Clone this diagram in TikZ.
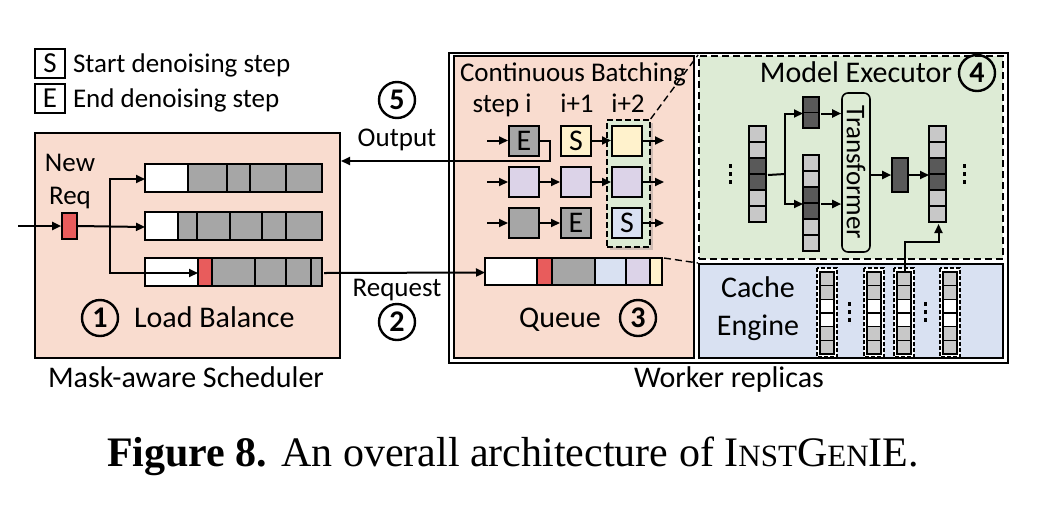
\documentclass[tikz,border=0pt]{standalone}
\usepackage{fontspec}
\setmainfont{Carlito}
\newfontfamily\capfont{Liberation Serif}
\usetikzlibrary{arrows.meta,shadows,calc}
\definecolor{pinkbg}{HTML}{F9DCCF}
\definecolor{greenbg}{HTML}{DDEBD5}
\definecolor{bluebg}{HTML}{D9E1F2}
\definecolor{midgray}{HTML}{A6A6A6}
\definecolor{darkgray}{HTML}{595959}
\definecolor{lightgray}{HTML}{C8C8C8}
\definecolor{redq}{HTML}{E85C5C}
\definecolor{yel}{HTML}{FFF2CC}
\definecolor{purp}{HTML}{DCD3E8}
\begin{document}
\begin{tikzpicture}[x=1pt,y=-1pt,
  line width=2pt,
  >={Triangle[length=9pt,width=8pt]},
  lbl/.style={font=\fontsize{27}{32}\selectfont, inner sep=0pt},
  big/.style={font=\fontsize{30}{38}\selectfont, inner sep=0pt},
  numc/.style={circle, draw, line width=2.4pt, minimum size=36pt, inner sep=0pt, font=\fontsize{30}{30}\selectfont\bfseries},
  sq/.style={draw, line width=2pt, minimum size=30pt, inner sep=0pt, font=\fontsize{30}{30}\selectfont},
  legbox/.style={draw, line width=2pt, minimum width=30pt, minimum height=29pt, inner sep=0pt, font=\fontsize{29}{29}\selectfont},
  area/.style={draw, line width=2pt, inner sep=0pt, anchor=north west},
  seg/.style={draw, line width=2pt},
  cell/.style={draw, line width=1.6pt},
  dsh/.style={dash pattern=on 7pt off 4pt, line width=1.8pt},
]
\useasboundingbox (0,0) rectangle (1041,515);

% legend
\node[legbox] (legS) at (50,63.5) {S};
\node[lbl, anchor=base west] (legStxt) at (72,72) {Start denoising step};
\node[legbox] (legE) at (50,98.5) {E};
\node[lbl, anchor=base west] (legEtxt) at (72,107) {End denoising step};

% scheduler
\node[area, fill=pinkbg, minimum width=305pt, minimum height=225pt] (sched) at (34,132) {};
\node[lbl, anchor=base] (newt) at (70,171) {New};
\node[lbl, anchor=base] (reqt) at (70,204) {Req};
\node[draw, line width=1.6pt, fill=redq, minimum width=15pt, minimum height=26pt, inner sep=0pt] (newreq) at (69.5,226) {};

\foreach \a/\b/\c in {145/188/white,188/227/midgray,227/250/midgray,250/286/midgray,286/322/midgray}
  \draw[seg, fill=\c] (\a,164) rectangle (\b,192);
\foreach \a/\b/\c in {145/178/white,178/197/midgray,197/230/midgray,230/262/midgray,262/286/midgray,286/322/midgray}
  \draw[seg, fill=\c] (\a,212) rectangle (\b,240);
\foreach \a/\b/\c in {145/198/white,198/212/redq,212/255/midgray,255/286/midgray,286/311/midgray,311/322/midgray}
  \draw[seg, fill=\c] (\a,258) rectangle (\b,286);
\node[inner sep=0pt, minimum width=177pt, minimum height=28pt, anchor=north west] (r1) at (145,164) {};
\node[inner sep=0pt, minimum width=177pt, minimum height=28pt, anchor=north west] (r2) at (145,212) {};
\node[inner sep=0pt, minimum width=177pt, minimum height=28pt, anchor=north west] (r3) at (145,258) {};
\node[inner sep=0pt, minimum width=14pt, minimum height=28pt, anchor=north west] (r3red) at (198,258) {};

\coordinate (inc) at (18,226);
\coordinate (br) at (110,226);
\draw[->] (inc) -- (newreq.west);
\draw[->] (newreq.east) -- (r2.west);
\draw[->] (br) |- (r1.west);
\draw[->] (br) |- (r3red.west);

\node[numc] (c1) at (100,318) {1};
\node[big, anchor=base west] (lbt) at (133,327) {Load Balance};
\node[big, anchor=base] (schedt) at (186,387) {Mask-aware Scheduler};

% middle labels
\node[numc] (c5) at (397,100) {5};
\node[lbl, anchor=base] (outt) at (397,146) {Output};
\node[lbl, anchor=base] (reqtt) at (397,296) {Request};
\node[numc] (c2) at (397,322) {2};

% worker replicas
\node[area, minimum width=559pt, minimum height=310pt] (worker) at (448,52) {};
\node[area, fill=pinkbg, minimum width=240pt, minimum height=302pt] (batch) at (453,55) {};
\node[area, dsh, fill=greenbg, minimum width=304pt, minimum height=203pt] (exec) at (698,55) {};
\node[area, fill=bluebg, minimum width=304pt, minimum height=94pt] (cache) at (698,263) {};
\node[big, anchor=base] (workt) at (729,387) {Worker replicas};

% continuous batching
\node[lbl, anchor=base] (cbt) at (573,81) {Continuous Batching};
\node[lbl, anchor=base] (s0) at (502,112) {step i};
\node[lbl, anchor=base] (s1) at (577,112) {i+1};
\node[lbl, anchor=base] (s2) at (628,112) {i+2};

\node[area, dash pattern=on 6pt off 3pt, line width=1.6pt, fill=greenbg, minimum width=43pt, minimum height=127pt,
  drop shadow={opacity=0.35, shadow xshift=3pt, shadow yshift=-3pt}] (sel) at (606,119) {};

\node[sq, fill=midgray] (b11) at (524,140.5) {E};
\node[sq, fill=yel] (b12) at (576,140.5) {S};
\node[sq, fill=yel] (b13) at (627,140.5) {};
\node[sq, fill=purp] (b21) at (524,182) {};
\node[sq, fill=purp] (b22) at (576,182) {};
\node[sq, fill=purp] (b23) at (627,182) {};
\node[sq, fill=midgray] (b31) at (524,223) {};
\node[sq, fill=midgray] (b32) at (576,223) {E};
\node[sq, fill=bluebg] (b33) at (627,223) {S};

\foreach \r in {1,2,3}{
  \draw[->] ($(b\r1.west)+(-21,0)$) -- (b\r1.west);
  \draw[->] (b\r3.east) -- ++(21,0);
}
\draw[->] (b12.east) -- (b13.west);
\draw[->] (b21.east) -- (b22.west);
\draw[->] (b22.east) -- (b23.west);
\draw[->] (b31.east) -- (b32.west);

% output path
\coordinate (oturn) at (550,161);
\draw[->] (b11.east) -| (oturn) -- (oturn -| sched.east);

% queue bar
\foreach \a/\b/\c in {485/537/white,537/552/redq,552/595/midgray,595/626/bluebg,626/650/purp,650/662/yel}
  \draw[seg, fill=\c] (\a,258) rectangle (\b,285);
\node[inner sep=0pt, minimum width=177pt, minimum height=27pt, anchor=north west] (qbar) at (485,258) {};
\draw[->] (r3.east) -- (qbar.west);
\node[big, anchor=base] (queuet) at (560,327) {Queue};
\node[numc] (c3) at (638,318) {3};

% dashed zoom lines
\draw[dsh, line width=1.4pt] (sel.north east) -- (exec.north west);
\draw[dsh, line width=1.4pt] (qbar.north east) -- (cache.north west);

% model executor
\node[big, anchor=base east] (exect) at (953,82) {Model Executor};
\node[numc] (c4) at (977,73) {4};

\foreach \i/\c in {0/lightgray,1/lightgray,2/darkgray,3/darkgray,4/lightgray,5/lightgray}{
  \draw[cell, fill=\c] (749,126+16*\i) rectangle (766,142+16*\i);
  \draw[cell, fill=\c] (929,126+16*\i) rectangle (946,142+16*\i);
  \draw[cell, fill=\c] (803,155+16*\i) rectangle (819,171+16*\i);
}
\node[inner sep=0pt, minimum width=17pt, minimum height=96pt, anchor=north west] (lcol) at (749,126) {};
\node[inner sep=0pt, minimum width=17pt, minimum height=96pt, anchor=north west] (rcol) at (929,126) {};
\node[inner sep=0pt, minimum width=16pt, minimum height=96pt, anchor=north west] (mcol) at (803,155) {};
\draw[cell, fill=darkgray] (803,97) rectangle (819,112.5);
\draw[cell, fill=darkgray] (803,112.5) rectangle (819,128);
\node[inner sep=0pt, minimum width=16pt, minimum height=31pt, anchor=north west] (tok1) at (803,97) {};
\node[draw, line width=1.6pt, fill=darkgray, minimum width=16pt, minimum height=34pt, inner sep=0pt] (tok2) at (900,175) {};
\node[draw, line width=1.6pt, rounded corners=6pt, minimum width=28pt, minimum height=159pt, inner sep=0pt] (trans) at (856,172.5) {};
\node[lbl, rotate=-90] (transt) at (856,172.5) {Transformer};

\coordinate (split) at (785,174);
\draw (lcol.east) -- (split);
\draw[->] (split) |- (tok1.west);
\draw[->] (split) |- (mcol.west);
\draw[->] (tok1.east) -- (tok1.east -| trans.west);
\draw[->] (mcol.east) -- (mcol.east -| trans.west);
\draw[->] (trans.east |- tok2.west) -- (tok2.west);
\draw[->] (tok2.east) -- (tok2.east -| rcol.west);

\foreach \x in {730,964}
  \foreach \y in {166,174,182}
    \fill (\x-1.5,\y-2) rectangle (\x+1.5,\y+2);

% cache engine
\node[big, anchor=base] (cachet) at (758,297) {Cache};
\node[big, anchor=base] (enginet) at (758,335) {Engine};
\foreach \x/\n in {820/1,867/2,897/3,943/4}{
  \draw[dash pattern=on 4pt off 2pt, line width=1.2pt, fill=white] (\x-3,268) rectangle (\x+17,357);
  \foreach \i/\c in {0/lightgray,1/lightgray,2/white,3/white,4/lightgray,5/lightgray}
    \draw[cell, fill=\c] (\x,272+13.67*\i) rectangle (\x+14,285.67+13.67*\i);
  \node[inner sep=0pt, minimum width=14pt, minimum height=82pt, anchor=north west] (cc\n) at (\x,272) {};
}
\foreach \x in {849,925}
  \foreach \y in {304,312,320}
    \fill (\x-1.5,\y-2) rectangle (\x+1.5,\y+2);
\draw[->] (cc3.north) |- ($(rcol.south)+(0,18)$) -- (rcol.south);

% caption
\node[anchor=base, inner sep=0pt, font=\capfont\fontsize{42}{46}\selectfont] (cap) at (513,466)
  {\textbf{Figure 8.} An overall architecture of I{\fontsize{31}{31}\selectfont NST}G{\fontsize{31}{31}\selectfont EN}IE.};
\end{tikzpicture}
\end{document}
